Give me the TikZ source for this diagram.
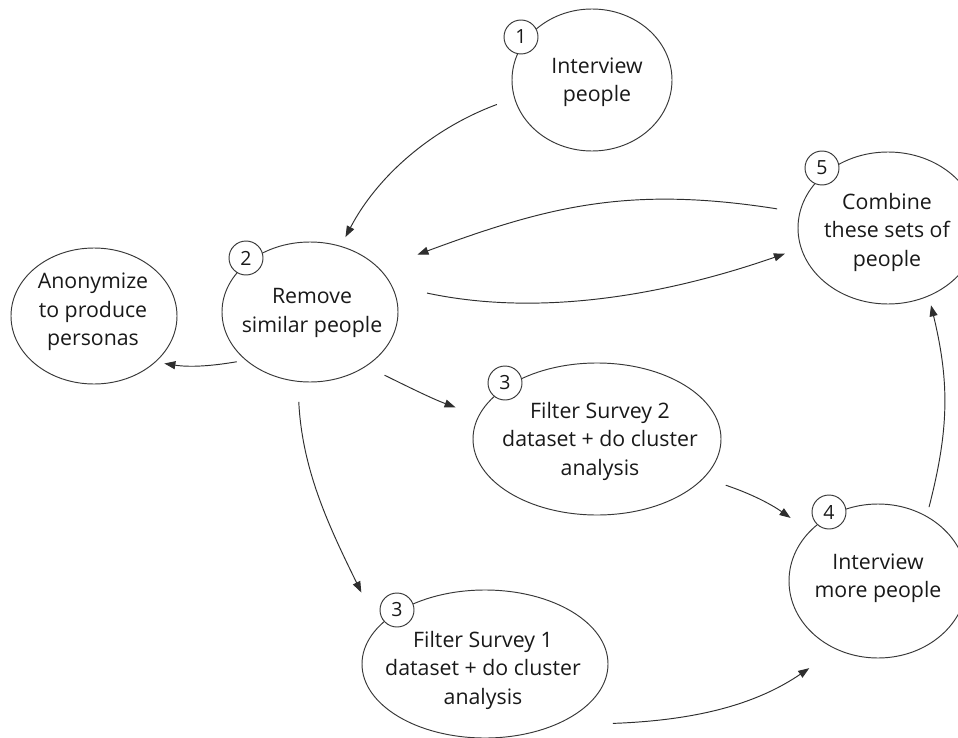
\documentclass[tikz,border=0pt]{standalone}
\usepackage{fontspec}
\setmainfont{Open Sans}
\usetikzlibrary{arrows.meta,shapes.geometric}
\begin{document}
\begin{tikzpicture}[x=1pt,y=1pt,
  ell/.style={draw=black!78, line width=0.95pt, ellipse, inner sep=0pt, outer sep=0pt},
  num/.style={draw=black!78, line width=0.95pt, circle, fill=white, minimum size=34pt, inner sep=0pt, font=\fontsize{19.5}{19.5}\selectfont, text=black!90},
  txt/.style={align=center, font=\fontsize{21.3}{28.5}\selectfont, text=black!90, inner sep=0pt},
  arr/.style={draw=black!82, line width=0.95pt, -{Triangle[length=11pt,width=8pt]}}]
\useasboundingbox (0,0) rectangle (958,-738);
\fill[white] (0,0) rectangle (958,-738);
\clip (0,0) rectangle (958,-738);
% ellipses
\node[ell, minimum width=160pt, minimum height=142pt] (n1) at (592,-80) {};
\node[ell, minimum width=176pt, minimum height=140pt] (n2) at (310,-312) {};
\node[ell, minimum width=166pt, minimum height=136pt] (nA) at (94,-316) {};
\node[ell, minimum width=180pt, minimum height=152pt] (n5) at (888,-228) {};
\node[ell, minimum width=178pt, minimum height=154pt] (n4) at (878,-581) {};
\node[ell, minimum width=248pt, minimum height=152pt] (nS2) at (597,-439) {};
\node[ell, minimum width=246pt, minimum height=148pt] (nS1) at (485,-664) {};
% texts
\node[txt] (t1) at (597,-82) {Interview\\people};
\node[txt] (t2) at (312,-313) {Remove\\similar people};
\node[txt] (tA) at (93,-312) {Anonymize\\to produce\\personas};
\node[txt] (t5) at (887,-232) {Combine\\these sets of\\people};
\node[txt] (t4) at (878,-578) {Interview\\more people};
\node[txt] (tS2) at (600,-441) {Filter Survey 2\\dataset + do cluster\\analysis};
\node[txt] (tS1) at (483,-670) {Filter Survey 1\\dataset + do cluster\\analysis};
% number circles
\node[num] (c1) at (521,-37) {1};
\node[num] (c2) at (246,-258) {2};
\node[num] (c5) at (822,-168) {5};
\node[num] (c4) at (829,-512) {4};
\node[num] (c3b) at (505,-383) {3};
\node[num] (c3a) at (397,-610) {3};
% arrows
\draw[arr, shorten <=18.9pt, shorten >=10.5pt] (n1.193.5) .. controls (432,-128.6) and (377.5,-175.8) .. (n2.65.4);
\draw[arr, shorten <=23.1pt, shorten >=40.8pt] (n5.170.1) .. controls (629,-185.5) and (548.6,-206.1) .. (n2.32.4);
\draw[arr, shorten <=36.4pt, shorten >=17.25pt] (n2.18.1) .. controls (544.4,-318) and (671.5,-293.1) .. (n5.193.2);
\draw[arr, shorten <=9.5pt, shorten >=9.4pt] (n2.217.3) .. controls (212,-366) and (190,-367.5) .. (nA.323.7);
\draw[arr, shorten <=20.7pt, shorten >=24.8pt] (n2.316.6) .. controls (407.3,-386.4) and (431.9,-398.6) .. (nS2.169.95);
\draw[arr, shorten <=20.6pt, shorten >=38.6pt] (n2.260.3) .. controls (302.2,-472) and (330.9,-530) .. (nS1.161.4);
\draw[arr, shorten <=23.3pt, shorten >=23.6pt] (nS2.340.3) .. controls (749.6,-493.2) and (769.9,-503.4) .. (n4.144.8);
\draw[arr, shorten <=59.6pt, shorten >=33.5pt] (nS1.318.2) .. controls (703.3,-720.15) and (760.1,-701.6) .. (n4.239.7);
\draw[arr, shorten <=9.7pt, shorten >=9.8pt] (n4.53.6) .. controls (949,-429.4) and (949.7,-382.9) .. (n5.301.6);
\end{tikzpicture}
\end{document}
